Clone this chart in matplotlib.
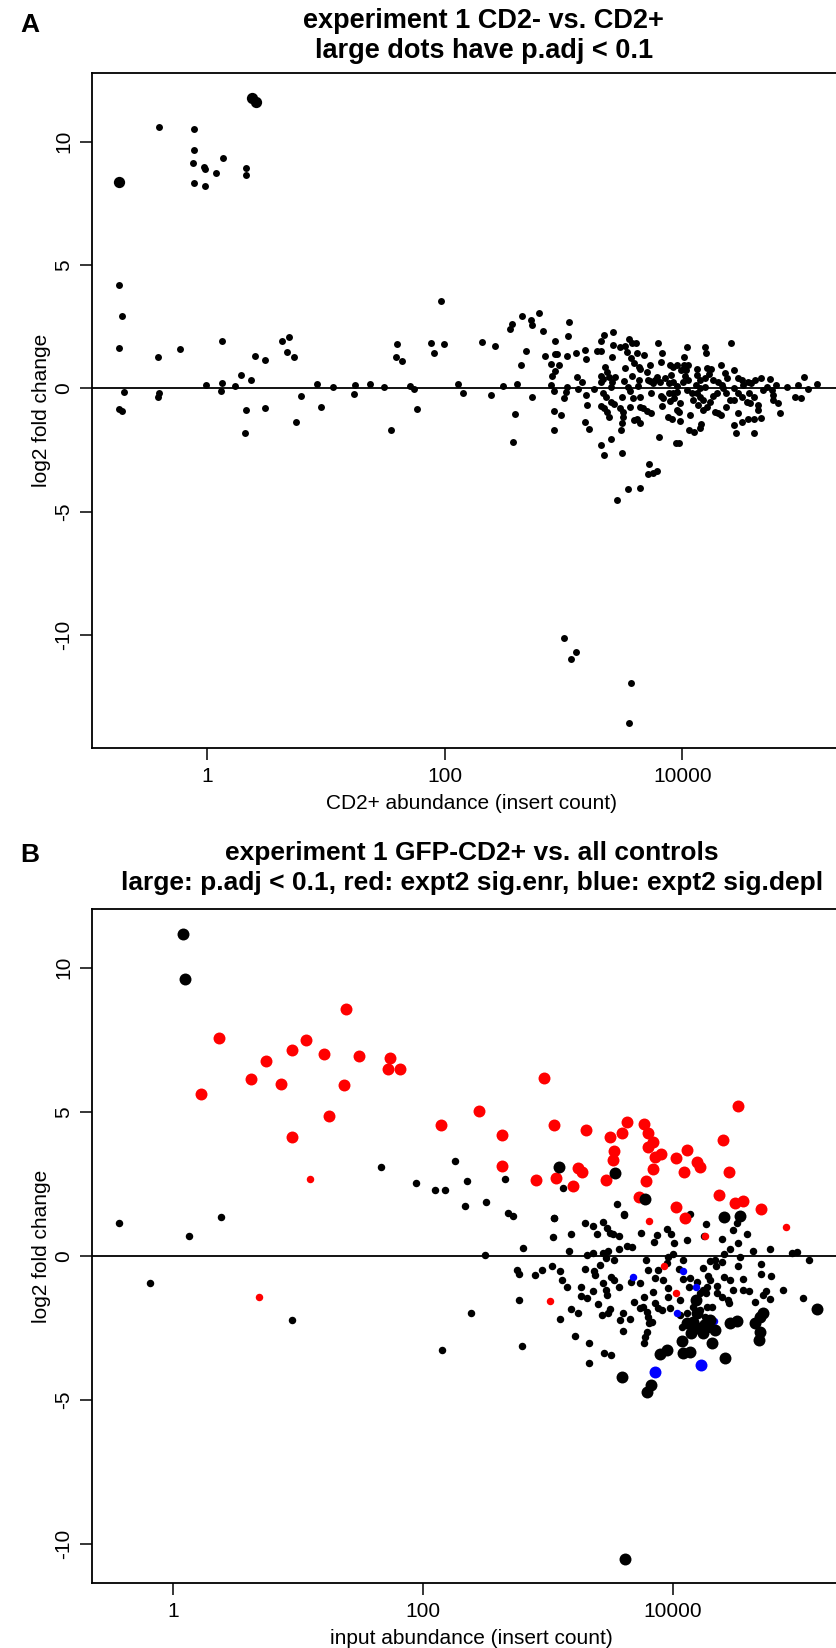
import numpy as np
import matplotlib
matplotlib.use('Agg')
import matplotlib.pyplot as plt

plt.rcParams['font.family'] = ['Liberation Sans', 'DejaVu Sans']

# ---- panel A : CD2- vs CD2+ (log10 insert count, log2 fold change) ----
a_large = [(-0.74, 8.36), (0.374, 11.76), (0.41, 11.62)]
a_small = [
    (-0.406, 10.58), (-0.109, 10.5), (-0.109, 9.65), (-0.118, 9.12), (-0.028, 8.96), (-0.016, 8.89),
    (0.076, 8.74), (0.135, 9.35), (-0.109, 8.31), (-0.022, 8.2), (0.323, 8.92), (0.323, 8.66),
    (-0.74, 4.2), (-0.715, 2.95), (-0.74, 1.62), (-0.70, -0.16), (-0.74, -0.84), (-0.715, -0.93),
    (-0.418, 1.26), (-0.406, -0.18), (-0.418, -0.34), (-0.23, 1.61), (0.124, 1.92), (-0.014, 0.14),
    (0.12, 0.2), (0.116, -0.09), (0.23, 0.09), (0.28, 0.54), (0.365, 0.32), (0.398, 1.3), (0.488, 1.14),
    (0.326, -0.86), (0.318, -1.81), (0.488, -0.8), (0.629, 1.9), (0.688, 2.08), (0.668, 1.49),
    (0.727, 1.27), (0.789, -0.31), (0.75, -1.35), (0.924, 0.18), (0.96, -0.74), (1.058, 0.07),
    (1.24, 0.12), (1.235, -0.23), (1.367, 0.16), (1.484, 0.07), (1.55, -1.68), (1.6, 1.8), (1.59, 1.28),
    (1.64, 1.12), (1.71, 0.11), (1.737, -0.03), (1.768, -0.85), (1.886, 1.85), (1.908, 1.45),
    (1.99, 1.78), (1.967, 3.53), (2.113, 0.18),
    (2.15, -0.18), (2.315, 1.89), (2.419, 1.73), (2.388, -0.26), (2.492, 0.11), (2.548, 2.42),
    (2.562, 2.6), (2.649, 2.94), (2.722, 2.79), (2.736, 2.55), (2.795, 3.07), (2.826, 2.32),
    (2.685, 1.51), (2.638, 0.93), (2.607, 0.19), (2.593, -1.03), (2.576, -2.18), (2.735, -0.35),
    (2.927, 1.9), (2.84, 1.32), (2.927, 1.38), (2.94, 1.38), (2.89, 1.0), (2.96, 0.93), (2.927, 0.71),
    (2.9, 0.51), (2.893, 0.15), (2.916, -0.12), (2.916, -0.91), (2.977, -1.1), (2.916, -1.7),
    (3.042, 2.69), (3.033, 2.13), (3.025, 1.3), (3.1, 1.44), (3.031, 0.04), (3.02, -0.15), (3.0, -0.39),
    (3.109, 0.44), (3.123, -0.04), (3.154, 0.24), (3.18, 1.55), (3.19, 1.19), (3.185, -0.28),
    (3.2, -0.69), (3.18, -1.38), (3.213, -1.65), (3.252, -0.04), (3.277, 1.5), (3.317, 1.52),
    (3.317, 1.9), (3.34, 2.15), (3.412, 2.29), (3.412, 1.75), (3.407, 1.27), (3.474, 1.69),
    (3.35, 0.85), (3.366, 0.68), (3.31, 0.51), (3.33, 0.36), (3.317, 0.27), (3.38, 0.47), (3.408, 0.27),
    (3.4, 0.06), (3.43, 0.47), (3.33, -0.2), (3.36, -0.34), (3.317, -0.72), (3.34, -0.8), (3.362, -0.94),
    (3.385, -1.18), (3.4, -0.57), (3.424, -0.63), (3.317, -2.3), (3.395, -2.07), (3.342, -2.7),
    (3.488, -2.62), (3.45, -4.54), (3.54, -4.06), (3.642, -4.05), (3.715, -3.07), (3.707, -3.48),
    (3.755, -3.42), (3.783, -3.34),
    (3.52, 0.84), (3.55, 1.99), (3.578, 1.82), (3.606, 1.85), (3.52, 1.73), (3.53, 1.49), (3.57, 1.21),
    (3.59, 1.04), (3.62, 1.45), (3.68, 1.36), (3.63, 0.88), (3.645, 0.8), (3.507, 0.3), (3.54, 0.04),
    (3.56, -0.1), (3.49, -0.34), (3.578, 0.5), (3.634, 0.34), (3.626, 0.09), (3.587, -0.4), (3.56, -0.77),
    (3.477, -0.81), (3.5, -0.97), (3.497, -1.15), (3.488, -1.42), (3.483, -1.69), (3.642, -0.37),
    (3.67, -0.78), (3.642, -0.77), (3.59, -1.28), (3.62, -1.26), (3.642, -1.42), (3.723, 0.93),
    (3.7, 0.65), (3.707, 0.34), (3.727, 0.3), (3.755, 0.2), (3.794, 1.82), (3.83, 1.44), (3.82, 1.08),
    (3.783, 0.47), (3.81, 0.27), (3.77, 0.34), (3.853, 0.4), (3.883, 0.23), (3.735, -0.2), (3.7, -0.91),
    (3.735, -1.01), (3.8, -1.99), (3.822, -0.31), (3.84, -0.41), (3.828, -0.72), (3.875, -1.18),
    (3.914, -1.24), (3.895, 0.94), (3.923, 0.87), (3.956, 0.95), (3.985, 0.74), (3.9, 0.54), (3.92, 0.27),
    (3.95, 0.09), (3.883, -0.2), (3.92, -0.2), (3.956, -0.14), (3.895, -0.5), (3.93, -0.41), (3.98, -0.58),
    (3.956, -0.88), (3.967, -0.95), (3.976, -1.32), (3.945, -2.23), (3.967, -2.2), (4.016, 1.26),
    (4.04, 1.69), (4.01, 0.94), (4.05, 0.94), (4.03, 0.74), (4.02, 0.51), (4.05, 0.34), (4.007, 0.27),
    (4.035, -0.07), (4.083, -0.2), (4.09, -0.47), (4.063, -1.1), (4.058, -1.7), (4.1, -1.76),
    (4.158, -1.46), (4.147, -1.62),
    (4.125, 0.78), (4.12, 0.54), (4.147, 0.34), (4.193, 1.66), (4.196, 1.42), (4.204, 0.81), (4.24, 0.8),
    (4.22, 0.58), (4.19, 0.4), (4.114, 0.13), (4.147, 0.0), (4.19, 0.04), (4.12, -0.2), (4.147, -0.37),
    (4.175, -0.47), (4.134, -0.68), (4.175, -0.88), (4.204, -0.74), (4.23, -0.54), (4.26, -0.31),
    (4.288, -0.2), (4.274, -0.95), (4.3, -1.01), (4.324, -1.08), (4.324, 0.93), (4.36, 0.61), (4.378, 0.4),
    (4.26, 0.34), (4.3, 0.27), (4.33, 0.13), (4.345, 0.0), (4.37, -0.2), (4.4, -0.47), (4.366, -0.74),
    (4.405, 1.82), (4.43, 0.74), (4.43, -1.49), (4.45, -1.79), (4.465, -1.01), (4.5, -1.37), (4.47, 0.4),
    (4.5, 0.34), (4.51, 0.13), (4.43, 0.0), (4.47, -0.2), (4.5, -0.34), (4.436, -0.47), (4.54, -0.54),
    (4.554, 0.27), (4.58, 0.2), (4.61, 0.34), (4.66, 0.4), (4.563, -0.2), (4.6, -0.34), (4.57, -0.58),
    (4.554, -1.26), (4.6, -1.26), (4.638, -0.88), (4.638, -0.68), (4.66, -1.19), (4.6, -1.82),
    (4.68, -0.07), (4.71, 0.07), (4.737, 0.36), (4.75, -0.07), (4.765, -0.27), (4.76, -0.47), (4.79, 0.13),
    (4.806, -0.61), (4.82, -0.99), (4.877, 0.04), (4.947, -0.34), (4.995, -0.41), (4.975, 0.13),
    (5.02, 0.47), (5.06, -0.04), (5.132, 0.16),
    (3.0, -10.1), (3.103, -10.68), (3.06, -10.96), (3.564, -11.96), (3.55, -13.57),
]

# ---- panel B : GFP-CD2+ vs all controls ----
b_black_large = [
    (0.075, 11.18), (0.096, 9.6), (3.088, 3.09), (3.539, 2.88), (3.782, 1.96), (4.413, 1.33), (4.538, 1.38),
    (5.158, -1.86), (4.073, -2.95), (4.151, -2.67), (4.113, -2.35), (4.167, -2.29), (4.207, -2.52),
    (4.247, -2.7), (4.314, -3.02), (4.274, -2.47), (4.341, -2.58), (4.3, -2.23), (4.193, -2.0),
    (4.188, -1.54), (4.087, -3.39), (4.14, -3.33), (3.9, -3.42), (3.953, -3.28), (3.793, -4.72),
    (3.825, -4.49), (3.593, -4.2), (4.42, -3.56), (4.461, -2.35), (4.514, -2.26), (4.661, -2.35),
    (4.7, -2.12), (4.7, -2.64), (4.696, -2.93), (4.722, -1.98), (3.619, -10.53),
]
b_red_large = [
    (0.366, 7.56), (0.219, 5.61), (0.625, 6.15), (0.745, 6.76), (0.863, 5.95), (0.948, 7.13), (1.063, 7.49),
    (1.205, 7.0), (0.948, 4.13), (1.25, 4.85), (1.368, 5.93), (1.384, 8.56), (1.49, 6.94), (1.733, 6.88),
    (1.72, 6.5), (1.82, 6.47), (2.148, 4.54), (2.45, 5.02), (2.973, 6.18), (2.634, 4.19), (3.053, 4.53),
    (3.304, 4.35), (2.637, 3.13), (2.906, 2.63), (3.067, 2.69), (3.2, 2.41), (3.24, 3.03), (3.272, 2.92),
    (3.47, 2.63), (3.502, 4.12), (3.532, 3.65), (3.526, 3.34), (3.593, 4.25), (3.638, 4.66), (3.769, 4.56),
    (3.806, 4.27), (3.846, 3.96), (3.806, 3.78), (3.86, 3.44), (3.908, 3.53), (3.846, 3.0), (3.785, 2.6),
    (3.734, 2.05), (4.03, 3.41), (4.113, 3.67), (4.092, 2.89), (4.2, 3.26), (4.22, 3.07), (4.405, 4.02),
    (4.453, 2.89), (4.525, 5.21), (4.37, 2.12), (4.498, 1.84), (4.562, 1.91), (4.712, 1.61), (4.03, 1.68),
    (4.1, 1.31),
]
b_red_small = [(1.095, 2.68), (0.687, -1.42), (3.815, 1.21), (4.26, 0.69), (4.907, 0.99), (3.93, -0.35),
               (4.028, -1.31), (3.02, -1.57)]
b_blue_small = [(3.686, -0.73), (4.087, -0.53), (4.038, -1.98), (4.333, -2.26), (4.186, -1.1)]
b_blue_large = [(3.862, -4.05), (4.226, -3.81)]
b_black_small = [
    (-0.432, 1.12), (0.123, 0.7), (0.382, 1.33), (1.662, 3.09), (1.945, 2.53), (2.1, 2.29), (2.18, 2.27),
    (2.254, 3.29), (2.353, 2.6), (2.335, 1.73), (-0.189, -0.94), (0.948, -2.23), (2.156, -3.26),
    (2.389, -1.98), (2.508, 1.85), (2.66, 2.67), (3.122, 2.35), (3.555, 1.78), (3.61, 1.45), (4.143, 1.45),
    (3.053, 1.32), (2.685, 1.47), (2.72, 1.38),
    (2.498, 0.03), (2.805, 0.27), (2.755, -0.48), (2.771, -0.64), (2.768, -1.55), (2.797, -3.14),
    (2.9, -0.67), (2.952, -0.48), (3.032, -0.35), (3.053, 1.3), (3.045, 0.64), (3.184, 0.74), (3.174, 0.16),
    (3.1, -0.54), (3.112, -0.85), (3.152, -1.08), (3.099, -2.2), (3.186, -1.85), (3.243, -1.98),
    (3.22, -2.79), (3.331, -3.04), (3.331, -3.72), (3.299, 1.12), (3.36, 1.04), (3.398, 0.75),
    (3.446, 1.17), (3.474, 0.95), (3.5, 0.78), (3.526, 0.74), (3.571, 0.68), (3.313, 0.02), (3.366, 0.1),
    (3.446, 0.1), (3.486, 0.17), (3.465, -0.09), (3.531, -0.15), (3.419, -0.31), (3.568, 0.23),
    (3.633, 0.34), (3.673, 0.31), (3.609, 1.43), (3.747, 0.78), (3.852, 0.49), (3.879, 0.72),
    (3.953, 0.93), (3.988, 0.74), (4.012, 0.45), (4.113, 0.54), (4.266, 1.09), (4.253, 0.68),
    (3.302, -0.45), (3.372, -0.52), (3.38, -0.67), (3.509, -0.73), (3.531, -0.85), (3.571, -1.08),
    (3.445, -0.96), (3.465, -1.19), (3.478, -1.37), (3.27, -1.08), (3.267, -1.39), (3.313, -1.48),
    (3.366, -1.22), (3.406, -1.68), (3.433, -2.06), (3.5, -1.85), (3.481, -2.0), (3.579, -2.23),
    (3.6, -2.0), (3.606, -2.6), (3.66, -2.18), (3.51, -3.45), (3.454, -3.37), (3.668, -0.9), (3.74, -0.96),
    (3.806, -0.48), (3.886, -0.5), (3.788, -0.15), (3.86, -0.76), (3.92, -0.85), (3.952, -0.24),
    (3.966, -0.06), (4.006, 0.06), (4.08, -0.15), (3.846, -1.25), (3.967, -1.13), (3.967, -1.42),
    (3.772, -1.45), (3.692, -1.6), (3.74, -1.83), (3.793, -1.94), (3.766, -1.77), (3.806, -2.12),
    (3.833, -2.29), (3.814, -2.35), (3.86, -1.65), (3.886, -1.83), (3.913, -1.89), (3.98, -1.83),
    (4.06, -2.06), (4.06, -1.54), (3.779, -2.81), (3.769, -3.02), (3.793, -2.64), (4.054, -0.46),
    (4.087, -0.81), (4.14, -0.79), (4.193, -0.9), (4.129, -1.08), (4.245, -0.44), (4.285, -0.71),
    (4.298, -0.85), (4.274, -1.08), (4.266, -1.31), (4.3, -0.18), (4.34, -0.15), (4.35, -0.34),
    (4.4, -0.21), (4.41, 0.06), (4.4, 0.57), (4.461, 0.24), (4.528, 0.43), (4.488, 0.89), (4.514, 1.12),
    (4.6, 0.75), (4.413, -0.73), (4.461, -0.85), (4.359, -1.05), (4.354, -1.31), (4.394, -1.42),
    (4.448, -1.54), (4.455, -1.65), (4.488, -1.19), (4.54, -0.06), (4.522, -0.35), (4.562, -0.82),
    (4.568, -1.19), (4.612, -1.23), (4.647, 0.17), (4.707, -0.27), (4.71, -0.65), (4.661, -1.6),
    (4.781, 0.22), (4.791, -0.71), (4.781, -1.52), (4.727, -1.37), (4.75, -1.23), (4.888, -1.18),
    (4.955, 0.08), (4.995, 0.12), (5.049, -1.48), (5.097, -0.15), (4.22, -1.31), (4.247, -1.19),
    (4.274, -1.77), (4.22, -1.89), (4.26, -2.12), (4.314, -1.77), (4.113, -2.0), (4.073, -2.47),
    (4.16, -1.77), (4.247, -2.35),
]

W, H = 837, 1648
fig = plt.figure(figsize=(W / 100, H / 100), dpi=100)


def px_axes(left, right, top, bottom):
    return fig.add_axes([left / W, 1 - bottom / H, (right - left) / W, (bottom - top) / H])


def pts(group):
    arr = np.array(group)
    return 10 ** arr[:, 0], arr[:, 1]


def style(ax, xlim, ylim, xlabel):
    ax.set_xscale('log')
    ax.set_xlim(*xlim)
    ax.set_ylim(*ylim)
    ax.axhline(0, color='black', lw=1.3, zorder=1)
    ax.set_xticks([1, 100, 10000])
    ax.set_xticklabels(['1', '100', '10000'])
    ax.xaxis.set_minor_locator(matplotlib.ticker.NullLocator())
    ax.set_yticks([-10, -5, 0, 5, 10])
    ax.set_yticklabels(['-10', '-5', '0', '5', '10'], rotation=90, va='center')
    ax.tick_params(direction='out', length=8.5, width=1.1, labelsize=15, pad=5)
    ax.set_xlabel(xlabel, fontsize=15, labelpad=6)
    ax.set_ylabel('log2 fold change', fontsize=15, labelpad=2)
    for s in ax.spines.values():
        s.set_linewidth(1.3)


# panel A
ax1 = px_axes(91.7, 852, 73.3, 748.3)
style(ax1, (10 ** -0.973, 10 ** 5.427), (-14.59, 12.77), 'CD2+ abundance (insert count)')
ax1.scatter(*pts(a_small), s=25, color='black', linewidths=0, zorder=2)
ax1.scatter(*pts(a_large), s=66, color='black', linewidths=0, zorder=2)

# panel B
ax2 = px_axes(91.7, 852, 909, 1583.3)
style(ax2, (10 ** -0.654, 10 ** 5.438), (-11.375, 12.04), 'input abundance (insert count)')
ax2.scatter(*pts(b_black_small), s=29, color='black', linewidths=0, zorder=2)
ax2.scatter(*pts(b_red_small), s=29, color='#FF0000', linewidths=0, zorder=2)
ax2.scatter(*pts(b_blue_small), s=29, color='#0000FF', linewidths=0, zorder=2)
ax2.scatter(*pts(b_red_large), s=74, color='#FF0000', linewidths=0, zorder=3)
ax2.scatter(*pts(b_blue_large), s=74, color='#0000FF', linewidths=0, zorder=3)
ax2.scatter(*pts(b_black_large), s=74, color='black', linewidths=0, zorder=3)

# titles and panel letters
cx = (91.7 + 852) / 2 / W
cxa = cx + 12 / W
fig.text(cxa, 1 - 28 / H, 'experiment 1 CD2- vs. CD2+', ha='center', va='baseline', fontsize=19.5,
         fontweight='bold')
fig.text(cxa, 1 - 58 / H, 'large dots have p.adj < 0.1', ha='center', va='baseline', fontsize=19.5,
         fontweight='bold')
fig.text(20 / W, 1 - 32 / H, 'A', ha='left', va='baseline', fontsize=19, fontweight='bold')
fig.text(cx, 1 - 860 / H, 'experiment 1 GFP-CD2+ vs. all controls', ha='center', va='baseline', fontsize=19,
         fontweight='bold')
fig.text(cx, 1 - 890 / H, 'large: p.adj < 0.1, red: expt2 sig.enr, blue: expt2 sig.depl', ha='center',
         va='baseline', fontsize=19, fontweight='bold')
fig.text(20 / W, 1 - 862 / H, 'B', ha='left', va='baseline', fontsize=19, fontweight='bold')

fig.savefig('out.png', dpi=100)
